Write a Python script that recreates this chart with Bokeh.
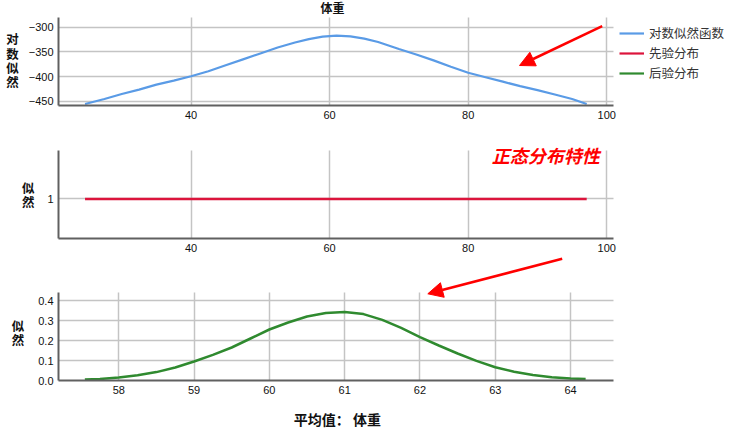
from bokeh.plotting import figure
from bokeh.layouts import column
from bokeh.models import (Range1d, FixedTicker, Label, Arrow, NormalHead, Legend,
                          LegendItem, NumeralTickFormatter)
from bokeh.embed import file_html
from bokeh.resources import INLINE

# ---------------- data ----------------
# panel 1: log-likelihood vs mean weight
loglik_x = [24.7, 27.5, 30, 32.5, 35, 37.5, 40, 42.5, 45, 47.5, 50, 52.5, 55, 57, 59, 61,
            63, 65, 67, 70, 72.5, 75, 77.5, 80, 82.5, 85, 87.5, 90, 92.5, 95, 97.1]
loglik_y = [-455, -445, -435, -426, -416, -408, -399, -389, -377, -365, -353, -341, -331, -324, -319, -317,
            -318.5, -323, -330, -344, -355, -367, -380, -392, -401, -410, -419, -427, -436, -445, -455]
loglik_yticks = [-450, -400, -350, -300]
top_xticks = [40, 60, 80, 100]

# panel 2: prior (flat)
prior_x = [24.7, 97.1]
prior_y = [1, 1]
prior_yticks = [1]

# panel 3: posterior
post_x = [57.55, 57.75, 58, 58.25, 58.5, 58.75, 59, 59.25, 59.5, 59.75, 60, 60.25, 60.5, 60.75,
          61, 61.25, 61.5, 61.75, 62, 62.25, 62.5, 62.75, 63, 63.25, 63.5, 63.75, 64, 64.2]
post_y = [0.005, 0.008, 0.015, 0.026, 0.042, 0.065, 0.095, 0.128, 0.165, 0.21, 0.255, 0.29, 0.32, 0.338,
          0.342, 0.332, 0.303, 0.263, 0.217, 0.175, 0.135, 0.098, 0.066, 0.044, 0.027, 0.016, 0.01, 0.007]
post_xticks = [58, 59, 60, 61, 62, 63, 64]
post_yticks = [0.0, 0.1, 0.2, 0.3, 0.4]

legend_labels = ["对数似然函数", "先验分布", "后验分布"]
BLUE, RED, GREEN = "#5a9be6", "#dc143c", "#2f8a2f"

CJK = "Noto Sans CJK SC"
W = 731
BL = 58                       # left border; frames run to the right edge
FW = W - BL
SP = "\u3000"                 # ideographic space used for padding


def style(p, xb, yb, ylabel, ystand):
    p.outline_line_color = None
    p.background_fill_color = "white"
    p.border_fill_color = "white"
    for ax in list(p.xaxis) + list(p.yaxis):
        ax.major_tick_out = 0
        ax.major_tick_in = 0
        ax.minor_tick_out = 0
        ax.minor_tick_in = 0
        ax.major_label_text_font = "Liberation Sans"
        ax.major_label_text_font_size = "11px"
        ax.major_label_text_color = "#111111"
        ax.axis_line_color = "#606060"
        ax.axis_line_width = 2
        ax.major_label_standoff = 5
        ax.axis_label_text_font = CJK
        ax.axis_label_text_font_size = "12.5px"
        ax.axis_label_text_font_style = "bold"
        ax.axis_label_text_color = "#111111"
    p.xaxis.bounds = xb
    p.yaxis.bounds = yb
    yax = p.yaxis[0]
    yax.axis_label = ylabel
    yax.axis_label_standoff = ystand
    yax.axis_label_text_line_height = 0.74
    if "axis_label_orientation" in yax.properties():
        yax.axis_label_orientation = "horizontal"
    for g in list(p.xgrid) + list(p.ygrid):
        g.grid_line_color = "#c4c4c4"
        g.grid_line_width = 1.5
    g0 = p.xgrid[0]
    if "cross_bounds" in g0.properties():
        p.xgrid.cross_bounds = yb
        p.ygrid.cross_bounds = xb
    else:
        xt = list(p.xaxis[0].ticker.ticks)
        yt = list(p.yaxis[0].ticker.ticks)
        p.xgrid.visible = False
        p.ygrid.visible = False
        p.segment(x0=xt, x1=xt, y0=[yb[0]] * len(xt), y1=[yb[1]] * len(xt),
                  line_color="#c4c4c4", line_width=1.5, level="underlay")
        p.segment(x0=[xb[0]] * len(yt), x1=[xb[1]] * len(yt), y0=yt, y1=yt,
                  line_color="#c4c4c4", line_width=1.5, level="underlay")


def to_data(xr, yr, ftop, fh, px, py):
    return (xr[0] + (px - BL) * (xr[1] - xr[0]) / FW,
            yr[1] - (py - ftop) * (yr[1] - yr[0]) / fh)


def red_arrow(p, xr, yr, ftop, fh, start, tip):
    x0, y0 = to_data(xr, yr, ftop, fh, *start)
    x1, y1 = to_data(xr, yr, ftop, fh, *tip)
    p.add_layout(Arrow(end=NormalHead(size=15, fill_color="#ff0000", line_color="#ff0000"),
                       x_start=x0, y_start=y0, x_end=x1, y_end=y1,
                       line_color="#ff0000", line_width=2.5))


# ---------------- panel 1 ----------------  canvas y 0..130, frame 0..105
X1 = (20.87, 118.0)
Y1 = (-458.1, -246.1)
p1 = figure(width=W, height=130, output_backend="svg", toolbar_location=None,
            x_range=Range1d(*X1), y_range=Range1d(*Y1),
            min_border_left=BL, min_border_right=0, min_border_top=0, min_border_bottom=25)
r1 = p1.line(loglik_x, loglik_y, line_color=BLUE, line_width=2.2)
# prior / posterior series also added here (they fall outside this panel's view) for the legend
r1b = p1.line(prior_x, prior_y, line_color=RED, line_width=2.2)
r1c = p1.line(post_x, post_y, line_color=GREEN, line_width=2.2)
p1.xaxis.ticker = FixedTicker(ticks=top_xticks)
p1.yaxis.ticker = FixedTicker(ticks=loglik_yticks)
style(p1, (20.87, 100.97), (-458.1, -280.4), SP + "\n对\n数\n似\n然", 7)
p1.add_layout(Label(x=274, y=98.5, x_units="screen", y_units="screen", text="体重",
                    text_font=CJK, text_font_size="12px", text_font_style="bold",
                    text_align="center", text_baseline="middle", text_color="#111111"))
legend = Legend(items=[LegendItem(label=legend_labels[0], renderers=[r1]),
                       LegendItem(label=legend_labels[1], renderers=[r1b]),
                       LegendItem(label=legend_labels[2], renderers=[r1c])],
                location=(561, 22.3), padding=0, margin=0, spacing=0,
                glyph_width=25, glyph_height=20, label_height=20, label_standoff=5,
                label_text_font=CJK, label_text_font_size="12.5px", label_text_color="#333333",
                border_line_color=None, background_fill_alpha=0)
p1.add_layout(legend)
red_arrow(p1, X1, Y1, 0, 105, (601.7, 25.7), (519, 65))

# ---------------- panel 2 ----------------  canvas y 130..256, frame 136..238
Y2 = (0.55, 1.709)
p2 = figure(width=W, height=126, output_backend="svg", toolbar_location=None,
            x_range=Range1d(*X1), y_range=Range1d(*Y2),
            min_border_left=BL, min_border_right=0, min_border_top=6, min_border_bottom=18)
p2.line(prior_x, prior_y, line_color=RED, line_width=2.5)
p2.xaxis.ticker = FixedTicker(ticks=top_xticks)
p2.yaxis.ticker = FixedTicker(ticks=prior_yticks)
style(p2, (20.87, 100.97), (0.55, 1.55), SP + "\n似\n然", 10)
p2.add_layout(Label(x=541.3, y=83.5, x_units="screen", y_units="screen", text="正态分布特性",
                    text_font=CJK, text_font_size="18px", text_font_style="bold italic",
                    text_align="right", text_baseline="middle", text_color="#ff0000"))

# ---------------- panel 3 ----------------  canvas y 256..440, frame 256..380
X3 = (57.2, 66.137)
Y3 = (0, 0.62)
p3 = figure(width=W, height=184, output_backend="svg", toolbar_location=None,
            x_range=Range1d(*X3), y_range=Range1d(*Y3),
            min_border_left=BL, min_border_right=0, min_border_top=0, min_border_bottom=60)
p3.line(post_x, post_y, line_color=GREEN, line_width=2.5)
p3.xaxis.ticker = FixedTicker(ticks=post_xticks)
p3.yaxis.ticker = FixedTicker(ticks=post_yticks)
p3.yaxis.formatter = NumeralTickFormatter(format="0.0")
style(p3, (57.2, 64.57), (0, 0.44), SP + "\n" + SP + "\n似\n然", 11)
p3.xaxis.axis_label = "平均值： 体重 " + SP * 8
p3.xaxis.axis_label_text_font_size = "14px"
p3.xaxis.axis_label_standoff = 12
red_arrow(p3, X3, Y3, 0, 124, (561.7, 258.3 - 256), (427.3, 293.3 - 256))

layout = column(p1, p2, p3, spacing=0)
open("out.html", "w").write(file_html(layout, INLINE))
